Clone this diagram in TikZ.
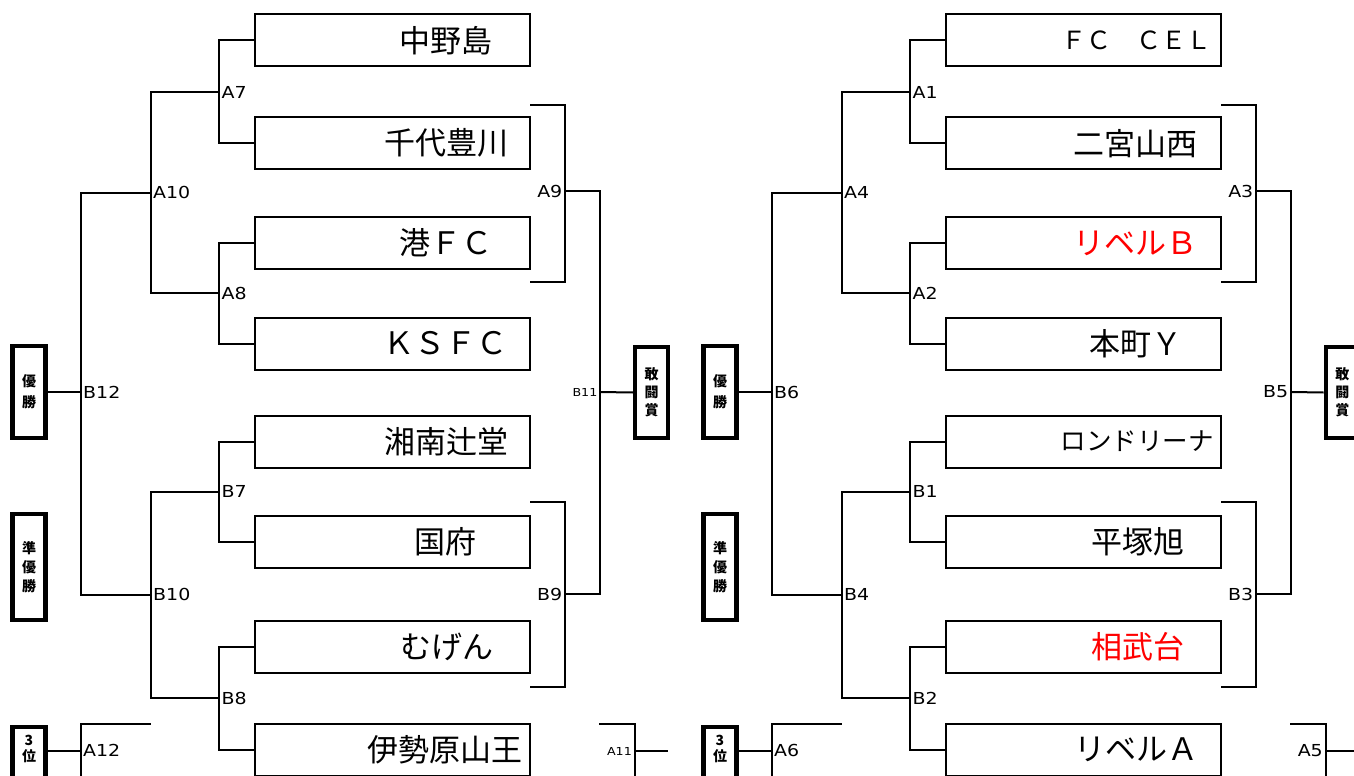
\documentclass[tikz,border=0pt]{standalone}
\usepackage{fontspec}
\setmainfont{Noto Sans CJK JP}
\newfontfamily\labfont{DejaVu Sans}[FakeStretch=1.15]
\usetikzlibrary{positioning}
\tikzset{
  team/.style     = {draw, line width=2pt, minimum width=275.5pt,
                     minimum height=52pt, inner sep=0pt},
  teamname/.style = {inner sep=0pt},
  award/.style    = {draw, line width=4.3pt, minimum width=33pt, inner sep=0pt,
                     align=center, font=\fontsize{14}{19}\selectfont\bfseries},
  matchlab/.style = {inner xsep=2.5pt, inner ysep=0pt,
                     font=\labfont\fontsize{16.5}{17}\selectfont},
  small lab/.style = {matchlab, font=\labfont\fontsize{11}{11}\selectfont},
  wire/.style     = {line width=2pt}
}

\begin{document}
\begin{tikzpicture}[x=1pt,y=-1pt]
  \useasboundingbox (0,0) rectangle (1354,776);
  \clip (0,0) rectangle (1354,776);

  % team boxes, left half
  \foreach \i/\y/\gap/\fs/\col/\txt in {
      1/40.5/38pt/31/black/中野島, 2/143.3/22pt/31/black/千代豊川,
      3/243/38pt/31/black/港ＦＣ, 4/343.5/23pt/31/black/ＫＳＦＣ,
      5/441.5/22pt/31/black/湘南辻堂, 6/541.5/54pt/31/black/国府,
      7/647/37pt/31/black/むげん, 8/749.5/8pt/31/black/伊勢原山王}
  {
    \node[team] (L\i) at (392.3,\y) {};
    \node[teamname, text=\col, font=\fontsize{\fs}{\fs}\selectfont,
          left=\gap of L\i.east] (nL\i) {\txt};
  }

  % team boxes, right half
  \foreach \i/\y/\gap/\fs/\col/\txt in {
      1/40.5/10pt/25/black/ＦＣ　ＣＥＬ, 2/143.3/24pt/31/black/二宮山西,
      3/243/24pt/31/red/リベルＢ, 4/343.5/39pt/31/black/本町Ｙ,
      5/441.5/8pt/25.5/black/ロンドリーナ, 6/541.5/37pt/31/black/平塚旭,
      7/647/37pt/31/red/相武台, 8/749.5/23pt/31/black/リベルＡ}
  {
    \node[team] (R\i) at (1083.3,\y) {};
    \node[teamname, text=\col, font=\fontsize{\fs}{\fs}\selectfont,
          left=\gap of R\i.east] (nR\i) {\txt};
  }

  % award boxes
  \node[award, minimum height=92pt, font=\fontsize{14}{21}\selectfont\bfseries]
       (win1) at (29,392) {優\\勝};
  \node[award, minimum height=106pt] (second1) at (29,567) {準\\優\\勝};
  \node[award, anchor=north, text height=34pt, text depth=60pt,
        font=\fontsize{14}{16}\selectfont\bfseries] (third1) at (29,725) {3\\位};
  \node[award, minimum height=91pt, font=\fontsize{14}{18}\selectfont\bfseries]
       (fight1) at (651.7,392.5) {敢\\闘\\賞};

  \node[award, minimum height=92pt, font=\fontsize{14}{21}\selectfont\bfseries]
       (win2) at (720,392) {優\\勝};
  \node[award, minimum height=106pt] (second2) at (720,567) {準\\優\\勝};
  \node[award, anchor=north, text height=34pt, text depth=60pt,
        font=\fontsize{14}{16}\selectfont\bfseries] (third2) at (720,725) {3\\位};
  \node[award, minimum height=91pt, font=\fontsize{14}{18}\selectfont\bfseries]
       (fight2) at (1342.3,392.5) {敢\\闘\\賞};

  % match points, left half
  \coordinate (a7) at (219,92);      \coordinate (a8) at (219,293.3);
  \coordinate (b7) at (219,491.5);   \coordinate (b8) at (219,698.3);
  \coordinate (a10) at (150.5,192.5); \coordinate (b10) at (150.5,594.5);
  \coordinate (b12) at (80.5,392);
  \coordinate (a12) at (80.5,750.5); \coordinate (a12t) at (150.5,724);
  \coordinate (a12e) at (80.5,780);
  \coordinate (a9t) at (530,105);    \coordinate (a9b) at (530,282);
  \coordinate (a9) at (565,191);
  \coordinate (b9t) at (530,502);    \coordinate (b9b) at (530,687);
  \coordinate (b9) at (565,594);
  \coordinate (b11) at (600,392);
  \coordinate (a11t) at (599,724);   \coordinate (a11) at (634.5,751);
  \coordinate (a11e) at (634.5,780); \coordinate (a11r) at (668,751);

  % match points, right half
  \coordinate (a1) at (910,92);      \coordinate (a2) at (910,293.3);
  \coordinate (b1) at (910,491.5);   \coordinate (b2) at (910,698.3);
  \coordinate (a4) at (841.5,192.5); \coordinate (b4) at (841.5,594.5);
  \coordinate (b6) at (771.5,392);
  \coordinate (a6) at (771.5,750.5); \coordinate (a6t) at (841.5,724);
  \coordinate (a6e) at (771.5,780);
  \coordinate (a3t) at (1221,105);   \coordinate (a3b) at (1221,282);
  \coordinate (a3) at (1256,191);
  \coordinate (b3t) at (1221,502);   \coordinate (b3b) at (1221,687);
  \coordinate (b3) at (1256,594);
  \coordinate (b5) at (1291,392);
  \coordinate (a5t) at (1290,724);   \coordinate (a5) at (1325.5,751);
  \coordinate (a5e) at (1325.5,780); \coordinate (a5r) at (1360,751);

  % bracket lines, left half
  \draw[wire] (L1.west) -| (a7) |- (L2.west);
  \draw[wire] (L3.west) -| (a8) |- (L4.west);
  \draw[wire] (L5.west) -| (b7) |- (L6.west);
  \draw[wire] (L7.west) -| (b8) |- (L8.west);
  \draw[wire] (a7) -| (a10) |- (a8);
  \draw[wire] (b7) -| (b10) |- (b8);
  \draw[wire] (a10) -| (b12) |- (b10);
  \draw[wire] (win1.east) -- (b12);
  \draw[wire] (third1.east |- a12) -- (a12);
  \draw[wire] (a12t) -| (a12e);
  \draw[wire] (a9t) -| (a9) |- (a9b);
  \draw[wire] (b9t) -| (b9) |- (b9b);
  \draw[wire] (a9) -| (b11) |- (b9);
  \draw[wire] (b11) -- (fight1.west);
  \draw[wire] (a11t) -| (a11e);
  \draw[wire] (a11) -- (a11r);

  % bracket lines, right half
  \draw[wire] (R1.west) -| (a1) |- (R2.west);
  \draw[wire] (R3.west) -| (a2) |- (R4.west);
  \draw[wire] (R5.west) -| (b1) |- (R6.west);
  \draw[wire] (R7.west) -| (b2) |- (R8.west);
  \draw[wire] (a1) -| (a4) |- (a2);
  \draw[wire] (b1) -| (b4) |- (b2);
  \draw[wire] (a4) -| (b6) |- (b4);
  \draw[wire] (win2.east) -- (b6);
  \draw[wire] (third2.east |- a6) -- (a6);
  \draw[wire] (a6t) -| (a6e);
  \draw[wire] (a3t) -| (a3) |- (a3b);
  \draw[wire] (b3t) -| (b3) |- (b3b);
  \draw[wire] (a3) -| (b5) |- (b3);
  \draw[wire] (b5) -- (fight2.west);
  \draw[wire] (a5t) -| (a5e);
  \draw[wire] (a5) -- (a5r);

  % match labels
  \foreach \c/\t in {a7/A7, a8/A8, b7/B7, b8/B8, a10/A10, b10/B10, b12/B12,
                     a12/A12, a1/A1, a2/A2, b1/B1, b2/B2, a4/A4, b4/B4,
                     b6/B6, a6/A6}
    \node[matchlab, right] (l\c) at (\c) {\t};
  \foreach \c/\t in {a9/A9, b9/B9, a3/A3, b3/B3, b5/B5, a5/A5}
    \node[matchlab, left] (l\c) at (\c) {\t};
  \foreach \c/\t in {b11/B11, a11/A11}
    \node[small lab, left] (l\c) at (\c) {\t};
\end{tikzpicture}
\end{document}
